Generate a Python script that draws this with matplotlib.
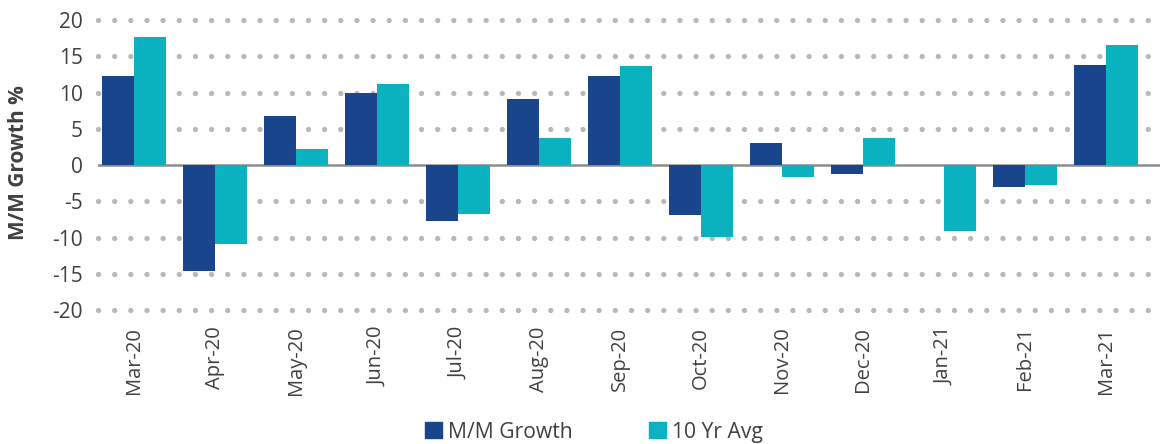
import matplotlib
matplotlib.use("Agg")
import matplotlib.pyplot as plt
import numpy as np
from matplotlib.patches import Patch

categories = ["Mar-20", "Apr-20", "May-20", "Jun-20", "Jul-20", "Aug-20", "Sep-20",
              "Oct-20", "Nov-20", "Dec-20", "Jan-21", "Feb-21", "Mar-21"]
mm_growth = [12.3, -14.6, 6.8, 9.9, -7.7, 9.1, 12.3, -6.9, 3.0, -1.2, 0.0, -3.1, 13.8]
ten_yr_avg = [17.7, -10.9, 2.2, 11.2, -6.7, 3.7, 13.7, -9.9, -1.6, 3.7, -9.1, -2.7, 16.6]
yticks = [20, 15, 10, 5, 0, -5, -10, -15, -20]

plt.rcParams['font.family'] = ['Open Sans', 'DejaVu Sans']
text_color = "#404040"
c_mm = "#18458C"
c_avg = "#0AB1BE"

fig = plt.figure(figsize=(11.6, 4.44), dpi=100)
W, H = 1160, 444
ax = fig.add_axes([98 / W, 1 - 310 / H, (1160 - 98) / W, (310 - 20) / H])

x = np.arange(len(categories))
bw = 0.395
ax.bar(x - bw / 2, mm_growth, width=bw, color=c_mm, zorder=3, label="M/M Growth")
ax.bar(x + bw / 2, ten_yr_avg, width=bw, color=c_avg, zorder=3, label="10 Yr Avg")

xl = (-0.444, 12.667)
for yv in yticks:
    if yv == 0:
        continue
    ax.plot([-0.44, 12.52], [yv, yv], color="#b8b8b8", lw=3.8,
            linestyle=(0, (0.01, 3.05)), dash_capstyle="round", zorder=1, clip_on=False)
ax.axhline(0, color="#8c8c8c", lw=1.8, zorder=2)

ax.set_xlim(*xl)
ax.set_ylim(-20, 20)
ax.set_yticks(yticks)
ax.set_yticklabels([str(v) for v in yticks], fontsize=15, color=text_color)
ax.set_xticks(x)
ax.set_xticklabels(categories, rotation=90, fontsize=14.5, color=text_color)
ax.tick_params(axis="both", length=0)
ax.tick_params(axis="x", pad=12)
ax.tick_params(axis="y", pad=11)
for s in ax.spines.values():
    s.set_visible(False)

ax.set_ylabel("M/M Growth %", fontsize=15, fontweight="bold", color=text_color)
ax.yaxis.set_label_coords(-(98 - 29) / (1160 - 98), 0.51)

handles = [Patch(color=c_mm, label="M/M Growth"), Patch(color=c_avg, label="10 Yr Avg")]
fig.legend(handles=handles, loc="center", bbox_to_anchor=(0.512, 1 - 432 / H), ncol=2,
           frameon=False, fontsize=15.2, handlelength=0.8, handleheight=0.8,
           handletextpad=0.3, columnspacing=3.6, labelcolor=text_color)

fig.savefig("out.png", dpi=100)
